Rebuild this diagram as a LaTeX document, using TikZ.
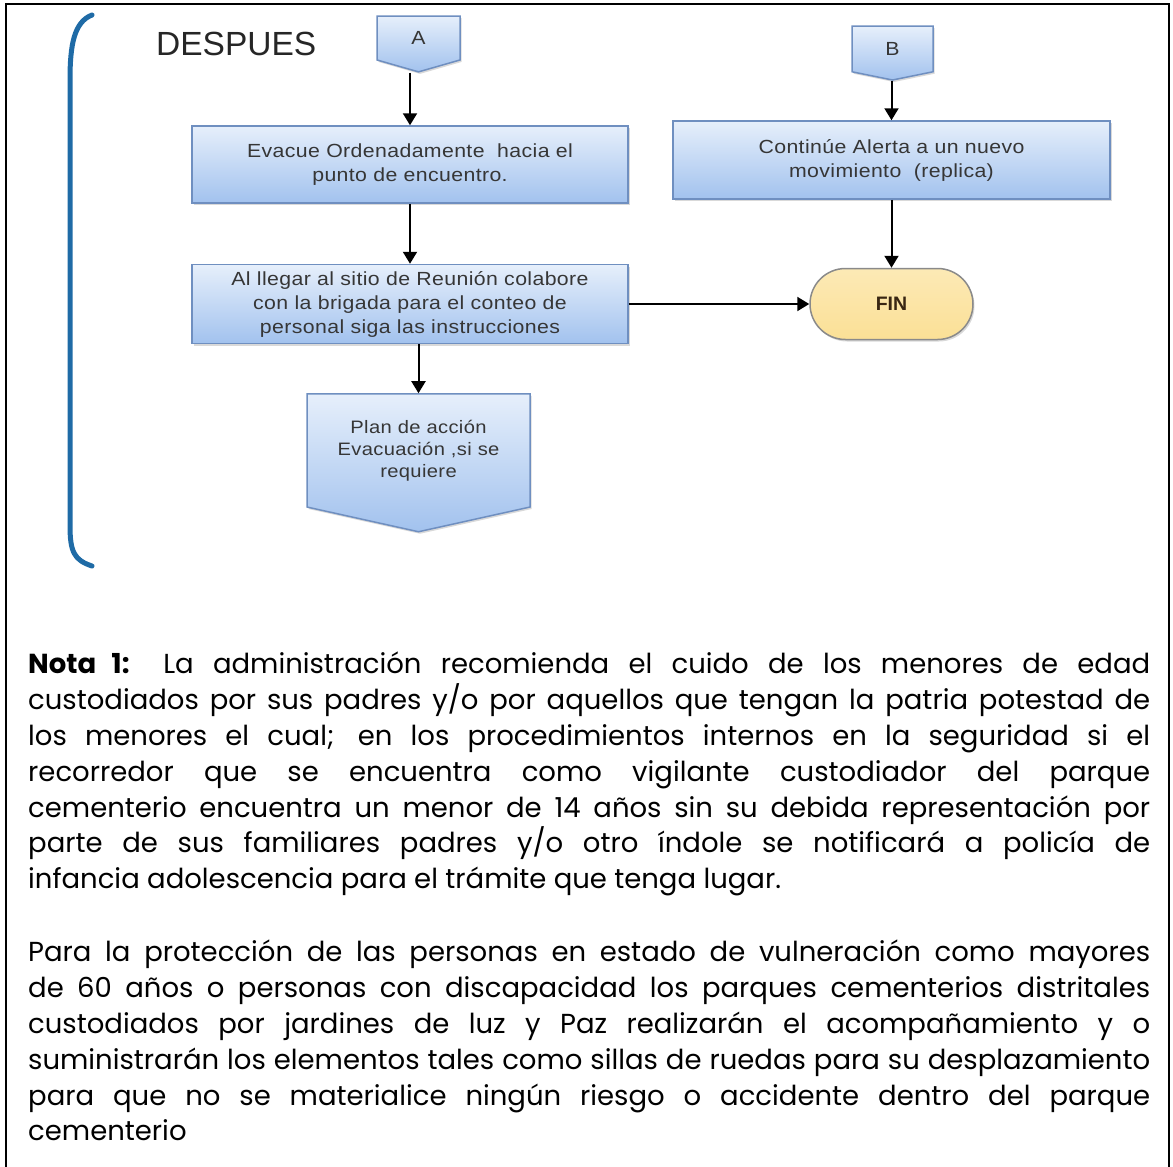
\documentclass[tikz,border=0pt]{standalone}
\usepackage{fontspec}
\setmainfont{Poppins}
\newfontfamily\arialfont{Liberation Sans}
\newfontfamily\cajafont[FakeStretch=1.12, LetterSpace=2]{Liberation Sans}
\usepackage{xcolor}
\usetikzlibrary{shapes.geometric, shapes.misc, shapes.symbols, arrows.meta, positioning, shadows}

\definecolor{cajaarriba}{HTML}{E6EFFB}
\definecolor{cajaabajo}{HTML}{A2C2EE}
\definecolor{cajaborde}{HTML}{6F8FC0}
\definecolor{finrelleno}{HTML}{FBE096}
\definecolor{finborde}{HTML}{8A8A8A}
\definecolor{llave}{HTML}{1F6BA6}
\definecolor{textocaja}{HTML}{363636}

\begin{document}
\begin{tikzpicture}[
    x=1pt, y=-1pt,
    caja/.style={
        rectangle, draw=cajaborde, line width=1.5pt,
        top color=cajaarriba, bottom color=cajaabajo,
        drop shadow={shadow xshift=1.5pt, shadow yshift=-2pt, opacity=0.3},
        minimum width=436pt, minimum height=77pt, inner sep=0pt,
        text centered, align=center, text=textocaja,
        font=\cajafont\fontsize{19}{24}\selectfont
    },
    conector/.style={
        signal, signal to=south, signal from=nowhere,
        draw=cajaborde, line width=1.5pt,
        top color=cajaarriba, bottom color=cajaabajo,
        drop shadow={shadow xshift=1.5pt, shadow yshift=-2pt, opacity=0.3},
        inner sep=0pt, align=center, text=textocaja,
        font=\cajafont\fontsize{19}{23}\selectfont
    },
    fin/.style={
        rounded rectangle, draw=finborde, line width=1.5pt,
        top color=finrelleno!70!white, bottom color=finrelleno,
        drop shadow={shadow xshift=1.5pt, shadow yshift=-2pt, opacity=0.3},
        minimum width=163pt, minimum height=71pt, inner sep=0pt,
        text={black!70!brown}, font=\arialfont\bfseries\fontsize{19.5}{22}\selectfont
    },
    arrow/.style={-{Triangle[length=12pt, width=14pt]}, line width=2pt},
    nota/.style={
        anchor=north west, text width=1122pt, inner sep=0pt,
        align=justify, font=\fontsize{27.5}{35.8}\selectfont
    },
]

\useasboundingbox (0,0) rectangle (1173,1167);

% Marco
\draw[line width=2pt] (6,1167) -- (6,4) -- (1169,4) -- (1169,1167);

% Llave
\draw[llave, line width=5pt, line cap=round]
    (92,15) .. controls (74,22) and (70,45) .. (70,80)
    -- (70,525) .. controls (70,552) and (74,560) .. (92,566);

% Titulo
\node[anchor=base west, inner sep=0pt, font=\arialfont\fontsize{33.5}{36}\selectfont, text=black!85]
    (despues) at (156,55) {DESPUES};

% Conectores de pagina
\node[conector, minimum width=83pt, minimum height=46pt, signal pointer angle=148]
    (conA) at (418.5,38) {A};
\node[conector, minimum width=81pt, minimum height=47pt, signal pointer angle=157]
    (conB) at (892.5,49) {B};

% Cajas
\node[caja] (evacue)   at (410,164.5) {Evacue Ordenadamente \ hacia el\\punto de encuentro.};
\node[caja, minimum width=437pt, minimum height=78pt]
    (continue) at (891.5,160) {Contin\'ue Alerta a un nuevo\\movimiento \ (replica)};
\node[caja, minimum height=79pt]
    (llegar)   at (410,304)   {Al llegar al sitio de Reuni\'on colabore\\con la brigada para el conteo de\\personal siga las instrucciones};
\node[fin] (fin) at (891.5,304) {FIN};
\node[conector, minimum width=223pt, minimum height=131pt, signal pointer angle=155,
      font=\cajafont\fontsize{18}{22}\selectfont]
    (plan) at (418.5,450.5) {Plan de acci\'on\\Evacuaci\'on ,si se\\requiere};

% Flechas
\draw[arrow] (conA.south -| evacue.north) -- (evacue.north);
\draw[arrow] (evacue) -- (llegar);
\draw[arrow] (plan.north |- llegar.south) -- (plan.north);
\draw[arrow] (llegar.east) -- (fin.west);
\draw[arrow] (conB.south -| continue.north) -- (continue.north);
\draw[arrow] (continue) -- (fin);

% Notas
\node[nota] (nota1) at (28,652) {%
    \textbf{Nota 1:} La administraci\'on recomienda el cuido de los menores de edad\linebreak
    custodiados por sus padres y/o por aquellos que tengan la patria potestad de\linebreak
    los menores el cual; en los procedimientos internos en la seguridad si el\linebreak
    recorredor que se encuentra como vigilante custodiador del parque\linebreak
    cementerio encuentra un menor de 14 a\~nos sin su debida representaci\'on por\linebreak
    parte de sus familiares padres y/o otro \'indole se notificar\'a a polic\'ia de\linebreak
    infancia adolescencia para el tr\'amite que tenga lugar.};
\node[nota] (nota2) at (28,940) {%
    Para la protecci\'on de las personas en estado de vulneraci\'on como mayores\linebreak
    de 60 a\~nos o personas con discapacidad los parques cementerios distritales\linebreak
    custodiados por jardines de luz y Paz realizar\'an el acompa\~namiento y o\linebreak
    suministrar\'an los elementos tales como sillas de ruedas para su desplazamiento\linebreak
    para que no se materialice ning\'un riesgo o accidente dentro del parque\linebreak
    cementerio};

\end{tikzpicture}
\end{document}
